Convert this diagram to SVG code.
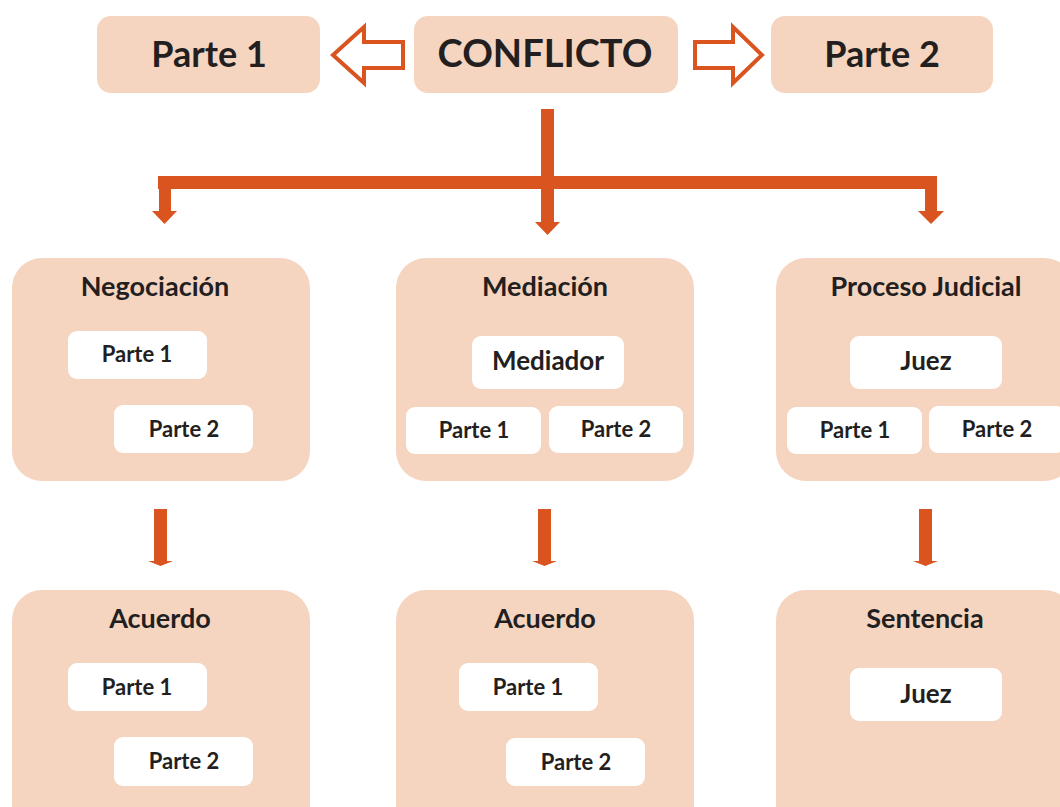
<svg xmlns="http://www.w3.org/2000/svg" width="1060" height="807" viewBox="0 0 1060 807">
<style>
.box{fill:#F6D5C0}
.in{fill:#FFFFFF}
.t{font-family:Lato,"Open Sans","Liberation Sans",sans-serif;font-weight:bold;fill:#231F20;text-anchor:middle}
.big{font-size:36px}
.cf{font-size:38px}
.ttl{font-size:27px}
.mid{font-size:26px}
.sm{font-size:22px}
.arr{fill:#D9541F}
.hol{fill:#FFFFFF;stroke:#D9541F;stroke-width:4;stroke-linejoin:miter}
</style>
<rect width="1060" height="807" fill="#FFFFFF"/>
<g id="parte1-top"><rect class="box" x="97" y="16" width="223" height="77" rx="14"/><text class="t big" x="209" y="67">Parte 1</text></g>
<g id="conflicto"><rect class="box" x="414" y="16" width="264" height="77" rx="14"/><text class="t cf" x="545" y="67">CONFLICTO</text></g>
<g id="parte2-top"><rect class="box" x="771" y="16" width="222" height="77" rx="14"/><text class="t big" x="882" y="67">Parte 2</text></g>

<g id="negociacion"><rect class="box" x="12" y="258" width="298" height="223" rx="30"/>
<text class="t ttl" x="155" y="296">Negociación</text>
<rect class="in" x="68" y="331" width="139" height="48" rx="9"/><text class="t sm" x="137" y="362">Parte 1</text>
<rect class="in" x="114" y="405" width="139" height="48" rx="9"/><text class="t sm" x="184" y="437">Parte 2</text></g>

<g id="mediacion"><rect class="box" x="396" y="258" width="298" height="223" rx="30"/>
<text class="t ttl" x="545" y="296">Mediación</text>
<rect class="in" x="472" y="336" width="152" height="53" rx="9"/><text class="t mid" x="548" y="370">Mediador</text>
<rect class="in" x="406" y="407" width="135" height="47" rx="9"/><text class="t sm" x="474" y="438">Parte 1</text>
<rect class="in" x="549" y="406" width="134" height="47" rx="9"/><text class="t sm" x="616" y="437">Parte 2</text></g>

<g id="proceso-judicial"><rect class="box" x="776" y="258" width="298" height="223" rx="30"/>
<text class="t ttl" x="926" y="296">Proceso Judicial</text>
<rect class="in" x="850" y="336" width="152" height="53" rx="9"/><text class="t mid" x="926" y="370">Juez</text>
<rect class="in" x="787" y="407" width="135" height="47" rx="9"/><text class="t sm" x="855" y="438">Parte 1</text>
<rect class="in" x="929" y="406" width="136" height="47" rx="9"/><text class="t sm" x="997" y="437">Parte 2</text></g>

<g id="acuerdo-1"><rect class="box" x="12" y="590" width="298" height="260" rx="30"/>
<text class="t ttl" x="160" y="628">Acuerdo</text>
<rect class="in" x="68" y="663" width="139" height="48" rx="9"/><text class="t sm" x="137" y="695">Parte 1</text>
<rect class="in" x="114" y="737" width="139" height="49" rx="9"/><text class="t sm" x="184" y="769">Parte 2</text></g>

<g id="acuerdo-2"><rect class="box" x="396" y="590" width="298" height="260" rx="30"/>
<text class="t ttl" x="545" y="628">Acuerdo</text>
<rect class="in" x="459" y="663" width="139" height="48" rx="9"/><text class="t sm" x="528" y="695">Parte 1</text>
<rect class="in" x="506" y="738" width="139" height="48" rx="9"/><text class="t sm" x="576" y="770">Parte 2</text></g>

<g id="sentencia"><rect class="box" x="776" y="590" width="298" height="260" rx="30"/>
<text class="t ttl" x="925" y="628">Sentencia</text>
<rect class="in" x="850" y="668" width="152" height="53" rx="9"/><text class="t mid" x="926" y="703">Juez</text></g>

<g id="connectors">
<polygon class="hol" points="403,42 364,42 364,27 333,55 364,83 364,68 403,68"/>
<polygon class="hol" points="695,42 733,42 733,27 762,55 733,83 733,68 695,68"/>
<rect class="arr" x="541" y="109" width="13" height="114"/>
<polygon class="arr" points="535,222 560,222 547.5,235"/>
<rect class="arr" x="158" y="176" width="779" height="13"/>
<rect class="arr" x="159" y="176" width="12" height="36"/>
<polygon class="arr" points="152,211 177,211 164.5,224"/>
<rect class="arr" x="925" y="176" width="12" height="36"/>
<polygon class="arr" points="918,211 944,211 931,224"/>
<rect class="arr" x="154" y="509" width="13" height="53"/>
<polygon class="arr" points="148,561 173,561 160.5,566"/>
<rect class="arr" x="538" y="509" width="13" height="53"/>
<polygon class="arr" points="532,561 557,561 544.5,566"/>
<rect class="arr" x="919" y="509" width="13" height="53"/>
<polygon class="arr" points="913,561 938,561 925.5,566"/>
</g>
</svg>
